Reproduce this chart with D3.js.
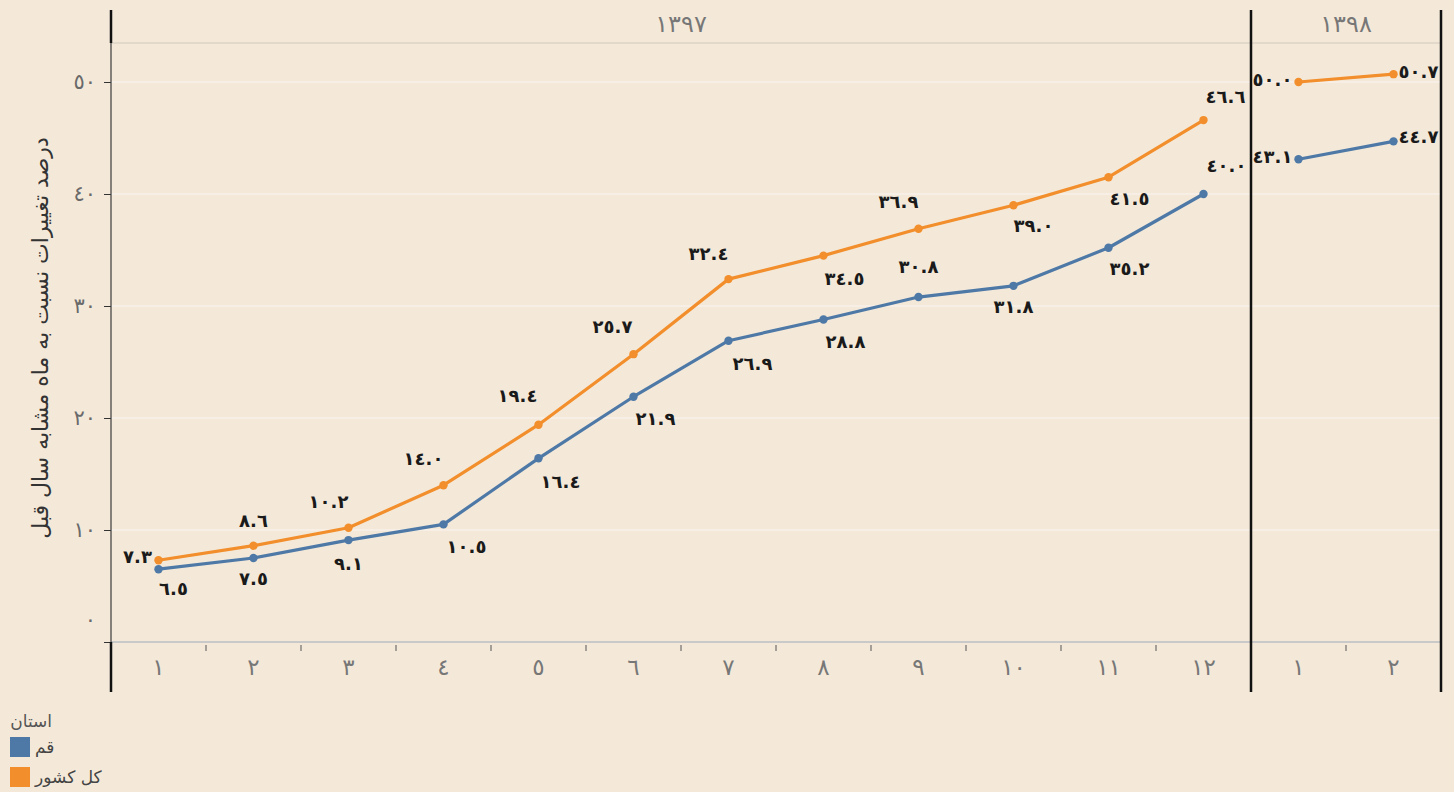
<!DOCTYPE html>
<html lang="fa">
<head>
<meta charset="UTF-8" />
<title>درصد تغییرات نسبت به ماه مشابه سال قبل</title>
<script src="https://d3js.org/d3.v7.min.js"></script>
<style>
  body { margin: 0; background: #f4e9d9; font-family: "DejaVu Sans", "Noto Sans", sans-serif; }
  svg { display: block; }
</style>
</head>
<body>
<svg id="chart" width="1454" height="792"></svg>

<script>
// داده‌ها
const years = ['1397', '1398'];
const months97 = [1, 2, 3, 4, 5, 6, 7, 8, 9, 10, 11, 12];
const months98 = [1, 2];
const qom97 = [6.5, 7.5, 9.1, 10.5, 16.4, 21.9, 26.9, 28.8, 30.8, 31.8, 35.2, 40.0];
const qom98 = [43.1, 44.7];
const country97 = [7.3, 8.6, 10.2, 14.0, 19.4, 25.7, 32.4, 34.5, 36.9, 39.0, 41.5, 46.6];
const country98 = [50.0, 50.7];
const yTicks = [0, 10, 20, 30, 40, 50];
const seriesNames = ['قم', 'کل کشور'];

// جای برچسب‌ها نسبت به نقطه [dx, dy]
const qomLabelOff = [[15, 21], [0, 22], [0, 25], [23, 24], [22, 25], [22, 23], [24, 24], [22, 24], [0, -29], [0, 22], [21, 22], [23, -27], [-26, -1], [25, -3]];
const countryLabelOff = [[-21, -2], [0, -24], [-20, -25], [-20, -25], [-21, -28], [-21, -26], [-20, -24], [21, 24], [-20, -26], [20, 22], [21, 23], [22, -22], [-26, -1], [25, -1]];

const colors = { qom: '#4e79a7', country: '#f28e2b' };

// ارقام عربی
const toAr = s => String(s).replace(/[0-9]/g, d => '٠١٢٣٤٥٦٧٨٩'[d]);
const fmt = v => toAr(v.toFixed(1));

const svg = d3.select('#chart');
const topY = 10, headerBottom = 43, baseY = 642, bottomY = 692;
const leftX = 111, splitX = 1251, rightX = 1441;

const y = d3.scaleLinear().domain([0, 50]).range([baseY, 82]);
const x97 = d3.scaleBand().domain(months97).range([leftX, splitX]);
const x98 = d3.scaleBand().domain(months98).range([splitX, rightX]);
const panes = [
  { year: years[0], x: x97, months: months97, qom: qom97, country: country97, off: 0 },
  { year: years[1], x: x98, months: months98, qom: qom98, country: country98, off: 12 }
];

// خطوط راهنما
svg.append('g').selectAll('line').data(yTicks.filter(d => d > 0)).join('line')
  .attr('x1', leftX).attr('x2', rightX)
  .attr('y1', d => y(d)).attr('y2', d => y(d))
  .attr('stroke', '#f8f1e8').attr('stroke-width', 1.5);

// خط سرصفحه و خط پایه
svg.append('line').attr('x1', leftX).attr('x2', rightX).attr('y1', headerBottom).attr('y2', headerBottom)
  .attr('stroke', '#d2c9bc').attr('stroke-width', 1);
svg.append('line').attr('x1', leftX).attr('x2', rightX).attr('y1', baseY).attr('y2', baseY)
  .attr('stroke', '#c9c9c9').attr('stroke-width', 2);

// محور عمودی
const yAxis = svg.append('g').attr('transform', `translate(${leftX},0)`)
  .call(d3.axisLeft(y).tickValues(yTicks).tickSize(7).tickFormat(toAr));
yAxis.select('.domain').remove();
yAxis.selectAll('.tick line').attr('stroke', '#333');
yAxis.selectAll('.tick text')
  .attr('x', -15).attr('fill', '#6a6a6a')
  .style('font-size', '21px').style('font-family', '"DejaVu Sans", sans-serif')
  .attr('dy', d => d === 0 ? '-0.75em' : '0.32em');

svg.append('line').attr('x1', leftX).attr('x2', leftX).attr('y1', headerBottom).attr('y2', baseY)
  .attr('stroke', '#3a3a3a').attr('stroke-width', 1.2);

svg.append('text')
  .attr('transform', 'translate(42,338) rotate(-90)')
  .attr('text-anchor', 'middle').attr('dominant-baseline', 'middle')
  .attr('fill', '#333').style('font-size', '22px')
  .text('درصد تغییرات نسبت به ماه مشابه سال قبل');

// محور افقی و سرصفحه سال‌ها
panes.forEach(p => {
  const bw = p.x.bandwidth();
  svg.append('g').selectAll('line').data(p.months.slice(1)).join('line')
    .attr('x1', d => p.x(d)).attr('x2', d => p.x(d))
    .attr('y1', baseY + 3).attr('y2', baseY + 9)
    .attr('stroke', '#555').attr('stroke-width', 1);
  svg.append('g').selectAll('text').data(p.months).join('text')
    .attr('x', d => p.x(d) + bw / 2).attr('y', 668)
    .attr('text-anchor', 'middle').attr('dominant-baseline', 'middle')
    .attr('fill', '#777').style('font-size', '23px')
    .text(d => toAr(d));
  const r = p.x.range();
  svg.append('text')
    .attr('x', (r[0] + r[1]) / 2).attr('y', 25)
    .attr('text-anchor', 'middle').attr('dominant-baseline', 'middle')
    .attr('fill', '#777').style('font-size', '24px')
    .text(toAr(p.year));
});

// خطوط سیاه جداکننده
const thick = [[leftX, topY, headerBottom], [leftX, baseY, bottomY], [splitX, topY, bottomY], [rightX, topY, bottomY]];
svg.append('g').selectAll('line').data(thick).join('line')
  .attr('x1', d => d[0]).attr('x2', d => d[0])
  .attr('y1', d => d[1]).attr('y2', d => d[2])
  .attr('stroke', '#111').attr('stroke-width', 2.5);

// سری‌ها
const line = d3.line().x(d => d.x).y(d => d.y);
[['qom', qomLabelOff], ['country', countryLabelOff]].forEach(([key, offs]) => {
  panes.forEach(p => {
    const bw = p.x.bandwidth();
    const pts = p[key].map((v, i) => ({ v, x: p.x(p.months[i]) + bw / 2, y: y(v), o: offs[p.off + i] }));
    svg.append('path').datum(pts).attr('d', line)
      .attr('fill', 'none').attr('stroke', colors[key]).attr('stroke-width', 3.2)
      .attr('stroke-linejoin', 'round');
    svg.append('g').selectAll('circle').data(pts).join('circle')
      .attr('cx', d => d.x).attr('cy', d => d.y).attr('r', 4.2)
      .attr('fill', colors[key]);
    svg.append('g').selectAll('text').data(pts).join('text')
      .attr('x', d => d.x + d.o[0]).attr('y', d => d.y + d.o[1])
      .attr('text-anchor', 'middle').attr('dominant-baseline', 'middle')
      .attr('fill', '#1a1a1a').style('font-size', '18px').style('font-weight', 'bold')
      .text(d => fmt(d.v));
  });
});

// راهنما
const legend = svg.append('g');
legend.append('text').attr('x', 52).attr('y', 722).attr('text-anchor', 'end')
  .attr('dominant-baseline', 'middle').attr('fill', '#555').style('font-size', '17px').text('استان');
const legendItems = [{ name: seriesNames[0], c: colors.qom }, { name: seriesNames[1], c: colors.country }];
legend.selectAll('rect').data(legendItems).join('rect')
  .attr('x', 10).attr('y', (d, i) => 737 + i * 30).attr('width', 20).attr('height', 20)
  .attr('fill', d => d.c);
legend.selectAll('text.item').data(legendItems).join('text').attr('class', 'item')
  .attr('x', 35).attr('y', (d, i) => 748 + i * 30)
  .attr('text-anchor', 'start').attr('dominant-baseline', 'middle')
  .attr('fill', '#444').style('font-size', '17px')
  .text(d => d.name);
</script>
</body>
</html>
